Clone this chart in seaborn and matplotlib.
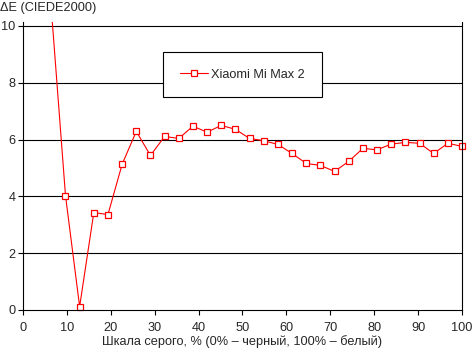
import matplotlib
matplotlib.use("Agg")
import matplotlib.pyplot as plt
from matplotlib.patches import Rectangle
import seaborn as sns
import pandas as pd

# grey level steps (32 steps over 0..100 %), first visible from 6.45
gray_pct = [6.45, 9.68, 12.90, 16.13, 19.35, 22.58, 25.81, 29.03, 32.26, 35.48,
            38.71, 41.94, 45.16, 48.39, 51.61, 54.84, 58.06, 61.29, 64.52, 67.74,
            70.97, 74.19, 77.42, 80.65, 83.87, 87.10, 90.32, 93.55, 96.77, 100.0]
delta_e = [10.6, 4.03, 0.12, 3.43, 3.36, 5.13, 6.29, 5.44, 6.11, 6.04,
           6.47, 6.26, 6.50, 6.36, 6.04, 5.96, 5.83, 5.51, 5.16, 5.09,
           4.88, 5.23, 5.69, 5.64, 5.84, 5.90, 5.87, 5.51, 5.87, 5.76]
series_name = "Xiaomi Mi Max 2"

df = pd.DataFrame({"x": gray_pct, "y": delta_e, "device": series_name})

sns.set_style("white")
plt.rcParams["font.family"] = ["Liberation Sans", "DejaVu Sans"]
fs = 9.2

fig = plt.figure(figsize=(4.72, 3.52), dpi=100)
ax = fig.add_axes([23 / 472, 42 / 352, 439 / 472, 288.3 / 352])

sns.lineplot(data=df, x="x", y="y", hue="device", palette=["#ff0000"],
             marker="s", markersize=5, markerfacecolor="white",
             markeredgecolor="#ff0000", markeredgewidth=0.9,
             linewidth=0.8, ax=ax)
# let the last marker spill over the right edge, but keep the top clipped
for ln in ax.lines:
    ln.set_clip_path(Rectangle((-0.02, -0.03), 1.04, 1.03, transform=ax.transAxes))

ax.set_xlim(0, 100)
ax.set_ylim(0, 10.15)
ax.set_xticks(range(0, 101, 10))
ax.set_yticks(range(0, 11, 2))
for yv in range(2, 11, 2):
    ax.axhline(yv, color="black", linewidth=0.8, zorder=0)

for side in ["left", "bottom", "right"]:
    ax.spines[side].set_color("black")
    ax.spines[side].set_linewidth(0.8)
ax.spines["top"].set_visible(False)
ax.tick_params(axis="both", direction="out", length=3.5, width=0.8,
               color="black", labelsize=fs, pad=2,
               bottom=True, left=True)
ax.tick_params(axis="x", pad=5)

ax.set_xlabel("Шкала серого, % (0% – черный, 100% – белый)", fontsize=fs, labelpad=1)
ax.set_ylabel("")
fig.text(0.0, 0.977, "ΔE (CIEDE2000)", fontsize=fs, ha="left", va="center")

leg = ax.legend(loc="center", bbox_to_anchor=(0.514, 0.788),
                bbox_transform=fig.transFigure, frameon=True, fancybox=False,
                borderpad=1.3, handlelength=2.2, handletextpad=0.25,
                fontsize=fs)
leg.get_frame().set_edgecolor("black")
leg.get_frame().set_linewidth(0.8)
leg.get_frame().set_alpha(1)

fig.savefig("out.png", dpi=100)
